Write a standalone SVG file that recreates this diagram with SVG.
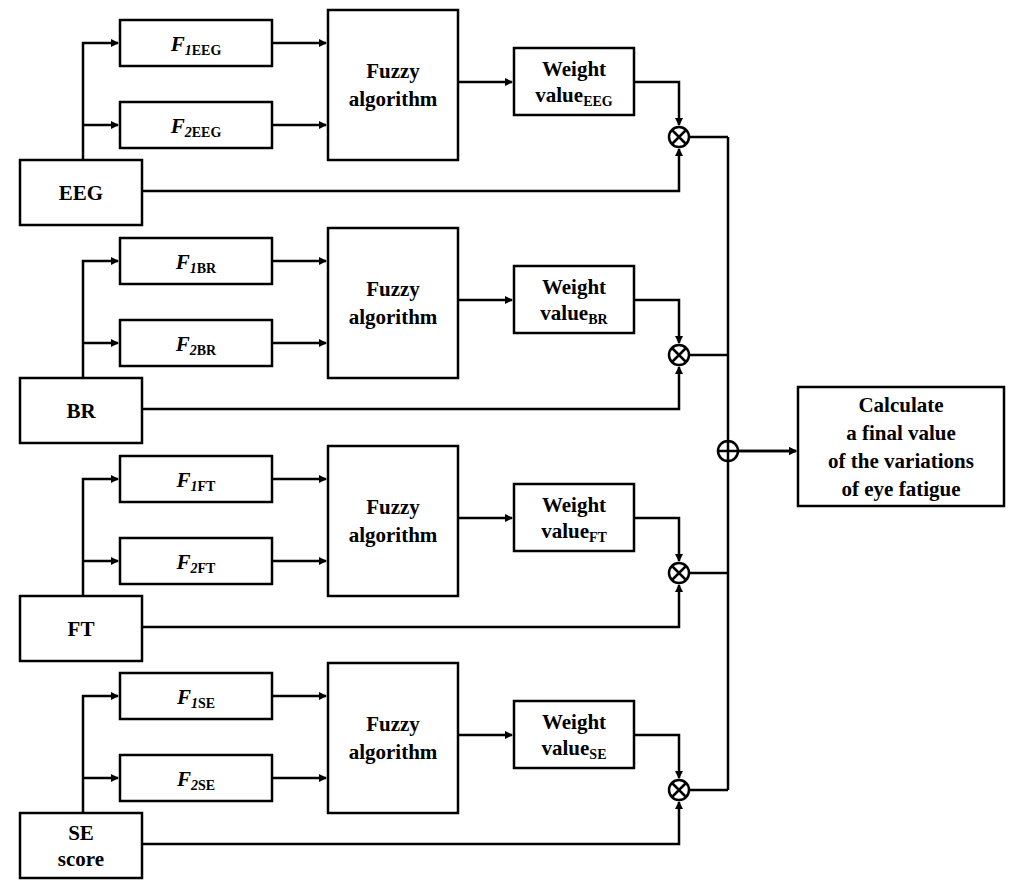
<svg xmlns="http://www.w3.org/2000/svg" width="1024" height="885" viewBox="0 0 1024 885">
<style>
.b{fill:#fff;stroke:#000;stroke-width:2.5}
.l{fill:none;stroke:#000;stroke-width:2.5}
text{font-family:"Liberation Serif",serif;font-weight:bold;font-size:21px;text-anchor:middle;fill:#000}
.s{font-size:14px}
</style>
<defs>
<marker id="a" markerWidth="8" markerHeight="8" refX="7" refY="4" orient="auto" markerUnits="userSpaceOnUse"><path d="M0,0L8,4L0,8z" fill="#000"/></marker>
<g id="sec">
<g class="l" marker-end="url(#a)">
<path d="M83,160V43H118"/><path d="M83,125H118"/>
<path d="M272,43H326"/><path d="M272,125H326"/>
<path d="M458,82H512"/>
<path d="M634,82H679V125"/>
<path d="M142,191H679V149"/>
</g>
<rect class="b" x="120" y="20" width="152" height="46"/>
<rect class="b" x="120" y="102" width="152" height="46"/>
<rect class="b" x="328" y="10" width="130" height="150"/>
<rect class="b" x="514" y="48" width="120" height="67"/>
<rect class="b" x="20" y="160" width="122" height="65"/>
<text x="393" y="78">Fuzzy</text><text x="393" y="106">algorithm</text>
<text x="574" y="76">Weight</text>
<circle cx="679" cy="137" r="10" class="b"/>
<path class="l" d="M672,130L686,144M686,130L672,144M689,137H728"/>
</g>
</defs>
<g id="connectors"><path class="l" d="M728,137V790M738,451H796" marker-end="url(#a)"/><path class="l" d="M738,451H796" marker-end="url(#a)"/></g>
<g id="eeg"><use href="#sec"/>
<text x="196" y="51" font-style="italic">F<tspan class="s" dy="4">1</tspan><tspan class="s" font-style="normal">EEG</tspan></text>
<text x="196" y="133" font-style="italic">F<tspan class="s" dy="4">2</tspan><tspan class="s" font-style="normal">EEG</tspan></text>
<text x="574" y="102">value<tspan class="s" dy="4">EEG</tspan></text>
<text x="81" y="200">EEG</text></g>
<g id="br" transform="translate(0,218)"><use href="#sec"/>
<text x="196" y="51" font-style="italic">F<tspan class="s" dy="4">1</tspan><tspan class="s" font-style="normal">BR</tspan></text>
<text x="196" y="133" font-style="italic">F<tspan class="s" dy="4">2</tspan><tspan class="s" font-style="normal">BR</tspan></text>
<text x="574" y="102">value<tspan class="s" dy="4">BR</tspan></text>
<text x="81" y="200">BR</text></g>
<g id="ft" transform="translate(0,436)"><use href="#sec"/>
<text x="196" y="51" font-style="italic">F<tspan class="s" dy="4">1</tspan><tspan class="s" font-style="normal">FT</tspan></text>
<text x="196" y="133" font-style="italic">F<tspan class="s" dy="4">2</tspan><tspan class="s" font-style="normal">FT</tspan></text>
<text x="574" y="102">value<tspan class="s" dy="4">FT</tspan></text>
<text x="81" y="200">FT</text></g>
<g id="se" transform="translate(0,653)"><use href="#sec"/>
<text x="196" y="51" font-style="italic">F<tspan class="s" dy="4">1</tspan><tspan class="s" font-style="normal">SE</tspan></text>
<text x="196" y="133" font-style="italic">F<tspan class="s" dy="4">2</tspan><tspan class="s" font-style="normal">SE</tspan></text>
<text x="574" y="102">value<tspan class="s" dy="4">SE</tspan></text>
<text x="81" y="187">SE</text><text x="81" y="213">score</text></g>
<g id="sum"><circle cx="728" cy="451" r="10" class="b"/><path class="l" d="M718,451H738M728,441V461"/></g>
<g id="final"><rect class="b" x="798" y="387" width="206" height="119"/>
<text x="901" y="412">Calculate</text><text x="901" y="440">a final value</text><text x="901" y="468">of the variations</text><text x="901" y="496">of eye fatigue</text></g>
</svg>
